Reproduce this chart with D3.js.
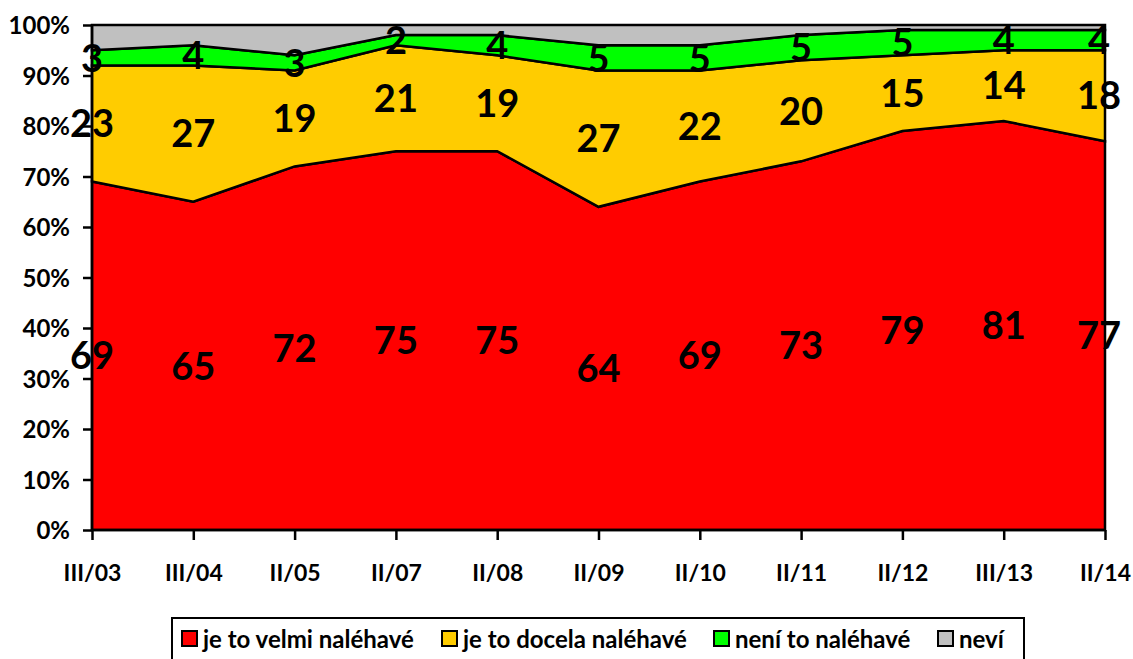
<!DOCTYPE html>
<html>
<head>
<meta charset="utf-8">
<script src="https://cdn.jsdelivr.net/npm/d3@7"></script>
<style>
  body { margin: 0; background: #fff; }
  text { font-family: Lato, "Open Sans", sans-serif; font-weight: bold; }
</style>
</head>
<body>
<div id="chart"></div>
<script>
// data
var categories = ["III/03", "III/04", "II/05", "II/07", "II/08", "II/09", "II/10", "II/11", "II/12", "III/13", "II/14"];
var velmi   = [69, 65, 72, 75, 75, 64, 69, 73, 79, 81, 77];
var docela  = [23, 27, 19, 21, 19, 27, 22, 20, 15, 14, 18];
var neni    = [3, 4, 3, 2, 4, 5, 5, 5, 5, 4, 4];
var nevi    = [5, 4, 6, 2, 2, 4, 4, 2, 1, 1, 1];
var seriesNames = ["je to velmi naléhavé", "je to docela naléhavé", "není to naléhavé", "neví"];
var colors = ["#ff0000", "#ffcc00", "#00ff00", "#c0c0c0"];
var yTicks = [0, 10, 20, 30, 40, 50, 60, 70, 80, 90, 100];

var width = 1133, height = 659;
var margin = {top: 25, right: 28, bottom: 129, left: 92};
var innerW = width - margin.left - margin.right;
var innerH = height - margin.top - margin.bottom;

var table = categories.map(function (c, i) {
    return {cat: c, s0: velmi[i], s1: docela[i], s2: neni[i], s3: nevi[i]};
});
var keys = ["s0", "s1", "s2", "s3"];
var labelled = [velmi, docela, neni];

var stack = d3.stack().keys(keys);
var layers = stack(table);

var x = d3.scalePoint().domain(categories).range([0, innerW]);
var y = d3.scaleLinear().domain([0, 100]).range([innerH, 0]);

var svg = d3.select("#chart").append("svg")
    .attr("width", width)
    .attr("height", height)
    .append("g")
    .attr("transform", "translate(" + margin.left + "," + margin.top + ")");

var area = d3.area()
    .x(function (d) { return x(d.data.cat); })
    .y0(function (d) { return y(d[0]); })
    .y1(function (d) { return y(d[1]); });

svg.selectAll("path.layer").data(layers).enter().append("path")
    .attr("class", "layer")
    .attr("d", area)
    .style("fill", function (d, i) { return colors[i]; })
    .style("stroke", "#000")
    .style("stroke-width", 2.5)
    .style("stroke-linejoin", "miter");

// axes
var yAxis = d3.axisLeft(y).tickValues(yTicks).tickSize(9).tickPadding(13)
    .tickFormat(function (d) { return d + "%"; });
svg.append("g").attr("class", "y axis").call(yAxis);

var xAxis = d3.axisBottom(x).tickSize(10).tickPadding(27);
svg.append("g").attr("class", "x axis")
    .attr("transform", "translate(0," + innerH + ")")
    .call(xAxis);

svg.selectAll(".axis path, .axis line").style("stroke", "#000").style("stroke-width", 2.5);
svg.selectAll(".axis .domain").attr("d", function () {
    return d3.select(this.parentNode).classed("y") ? "M0," + innerH + "V0" : "M0,0H" + innerW;
});
svg.selectAll(".y.axis text").style("font-size", "24px").style("fill", "#000").attr("dy", "0.36em");
svg.selectAll(".x.axis text").style("font-size", "23px").style("fill", "#000").attr("dy", "0.6em");

// data labels, centred in each band
layers.forEach(function (layer, li) {
    if (li > 2) return;
    svg.selectAll("text.lbl" + li).data(layer).enter().append("text")
        .attr("class", "lbl" + li)
        .attr("x", function (d, i) { return x(d.data.cat) - (i === categories.length - 1 ? 6 : 0); })
        .attr("y", function (d) { return y((d[0] + d[1]) / 2); })
        .attr("dy", "0.36em")
        .attr("text-anchor", "middle")
        .style("font-size", "38px")
        .style("fill", "#000")
        .text(function (d, i) { return labelled[li][i]; });
});

// legend
var legend = d3.select("svg").append("g").attr("transform", "translate(172,618)");
legend.append("rect")
    .attr("width", 852).attr("height", 60)
    .style("fill", "#fff").style("stroke", "#000").style("stroke-width", 2);
var legendX = [10, 270, 542, 766];
seriesNames.forEach(function (n, i) {
    var g = legend.append("g").attr("transform", "translate(" + legendX[i] + ",13)");
    g.append("rect").attr("width", 15).attr("height", 15)
        .style("fill", colors[i]).style("stroke", "#000").style("stroke-width", 2);
    g.append("text").attr("x", 21).attr("y", 8).attr("dy", "0.36em")
        .style("font-size", "24px").style("fill", "#000").text(n);
});
</script>
</body>
</html>
